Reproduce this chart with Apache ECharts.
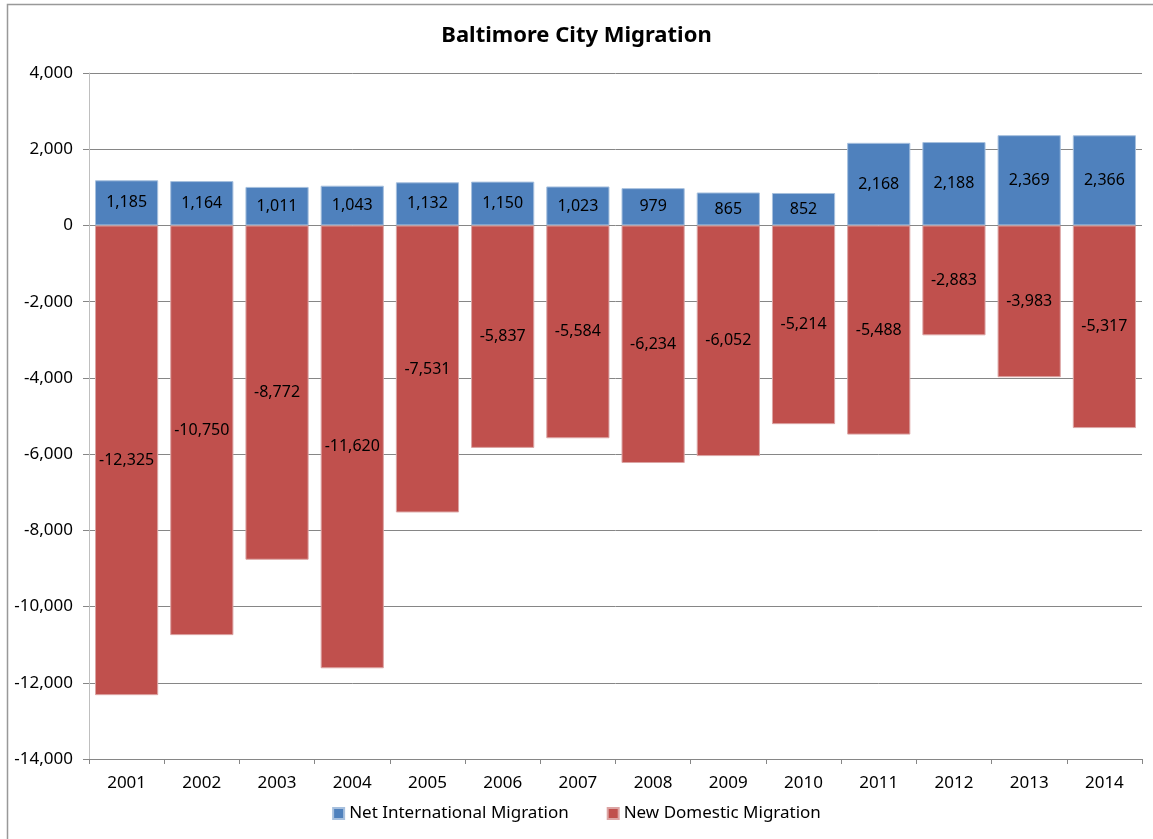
<!DOCTYPE html>
<html>
<head>
<meta charset="utf-8">
<script src="https://cdn.jsdelivr.net/npm/echarts@6/dist/echarts.min.js"></script>
<style>
  html, body { margin: 0; padding: 0; background: #fff; }
  #chart { width: 1153px; height: 839px; }
</style>
</head>
<body>
<div id="chart"></div>
<script>
const years = ['2001', '2002', '2003', '2004', '2005', '2006', '2007', '2008', '2009', '2010', '2011', '2012', '2013', '2014'];
const netInternational = [1185, 1164, 1011, 1043, 1132, 1150, 1023, 979, 865, 852, 2168, 2188, 2369, 2366];
const newDomestic = [-12325, -10750, -8772, -11620, -7531, -5837, -5584, -6234, -6052, -5214, -5488, -2883, -3983, -5317];

const font = 'Noto Sans';
const fmt = (v) => v.toLocaleString('en-US');

const chart = echarts.init(document.getElementById('chart'));
const option = {
  animation: false,
  textStyle: { fontFamily: font },
  title: {
    text: 'Baltimore City Migration',
    left: 'center',
    top: 20,
    textStyle: { fontFamily: font, fontSize: 22, fontWeight: 'bold', color: '#000' }
  },
  graphic: [{
    type: 'rect',
    shape: { x: 7.5, y: 4.5, width: 1200, height: 900 },
    style: { fill: 'none', stroke: '#999', lineWidth: 1.5 },
    silent: true
  }],
  legend: {
    bottom: 12,
    left: 'center',
    itemWidth: 11,
    itemHeight: 11,
    itemGap: 38,
    icon: 'rect',
    textStyle: { fontFamily: font, fontSize: 17, color: '#000' },
    data: ['Net International Migration', 'New Domestic Migration']
  },
  grid: { left: 89, right: 11, top: 73, bottom: 80 },
  xAxis: {
    type: 'category',
    data: years,
    axisLine: { onZero: false, lineStyle: { color: '#868686' } },
    axisTick: { show: true, length: 5, lineStyle: { color: '#868686' } },
    axisLabel: { fontFamily: font, fontSize: 17, color: '#000', margin: 16 }
  },
  yAxis: {
    type: 'value',
    min: -14000,
    max: 4000,
    interval: 2000,
    axisLine: { show: true, lineStyle: { color: '#bfbfbf' } },
    axisTick: { show: true, length: 6, lineStyle: { color: '#868686' } },
    splitLine: { lineStyle: { color: '#868686' } },
    axisLabel: { fontFamily: font, fontSize: 17, color: '#000', margin: 16, formatter: (v) => fmt(v) }
  },
  series: [
    {
      name: 'Net International Migration',
      type: 'bar',
      stack: 'total',
      barCategoryGap: '16%',
      data: netInternational,
      itemStyle: { color: '#4f81bd', borderColor: '#a7c0de', borderWidth: 1 },
      label: { show: true, position: 'inside', fontFamily: font, fontSize: 16, color: '#000', formatter: (p) => fmt(p.value) }
    },
    {
      name: 'New Domestic Migration',
      type: 'bar',
      stack: 'total',
      barCategoryGap: '16%',
      data: newDomestic,
      itemStyle: { color: '#c0504d', borderColor: '#dca5a4', borderWidth: 1 },
      label: { show: true, position: 'inside', fontFamily: font, fontSize: 16, color: '#000', formatter: (p) => fmt(p.value) }
    }
  ]
};
chart.setOption(option);
</script>
</body>
</html>
